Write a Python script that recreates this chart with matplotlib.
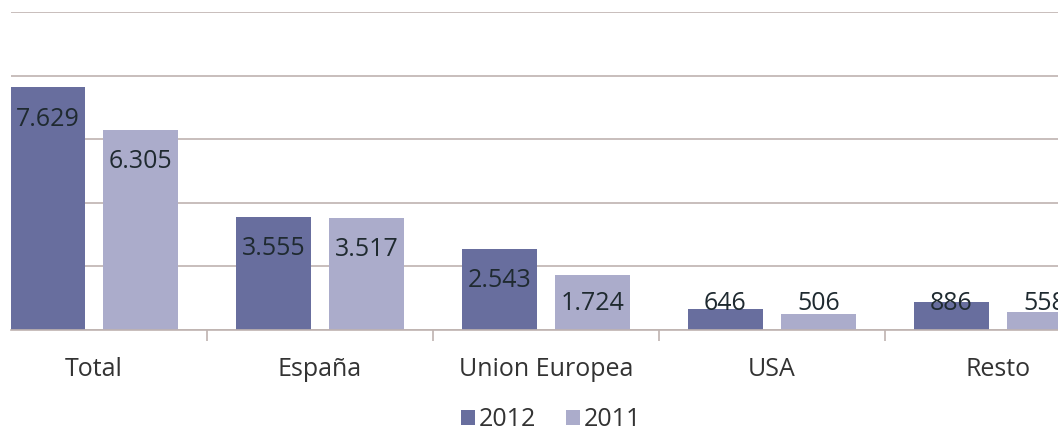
import matplotlib
matplotlib.use("Agg")
import matplotlib.pyplot as plt
import numpy as np

plt.rcParams['font.family'] = ['Open Sans', 'DejaVu Sans']

categories = ['Total', 'España', 'Union Europea', 'USA', 'Resto']
vals_2012 = [7629, 3555, 2543, 646, 886]
vals_2011 = [6305, 3517, 1724, 506, 558]
labels_2012 = ['7.629', '3.555', '2.543', '646', '886']
labels_2011 = ['6.305', '3.517', '1.724', '506', '558']
series = ['2012', '2011']

c12, c11 = '#686E9E', '#ABACCB'
grid_c = '#BFB3B0'
txt_c = '#333333'
fs = 18

W, H = 1058, 432
fig = plt.figure(figsize=(W / 100, H / 100), dpi=100)
# axes: left at 11px, category 0 centred at 94px, 226px per category
left_px, top_px, base_px = 11, 12, 330
xmin, xmax = (left_px - 94) / 226, 4.5
ax_w = (xmax - xmin) * 226
ax = fig.add_axes([left_px / W, (H - base_px) / H, ax_w / W, (base_px - top_px) / H])

x = np.arange(len(categories))
bw, off = 0.332, 0.206
b1 = ax.bar(x - off, vals_2012, bw, color=c12, label=series[0], zorder=2)
b2 = ax.bar(x + off, vals_2011, bw, color=c11, label=series[1], zorder=2)

ax.set_xlim(xmin, xmax)
ax.set_ylim(0, 10000)
ax.set_yticks(np.arange(0, 10001, 2000))
ax.yaxis.grid(True, color=grid_c, lw=1.2, zorder=0)
ax.tick_params(axis='y', length=0, labelleft=False)
for s in ['top', 'right', 'left']:
    ax.spines[s].set_visible(False)
ax.spines['bottom'].set_color(grid_c)
ax.spines['bottom'].set_linewidth(1.2)

ax.set_xticks(x + 0.5, minor=False)
ax.set_xticklabels([])
ax.tick_params(axis='x', length=8, color=grid_c, width=1.2)
for i, c in enumerate(categories):
    ax.text(i, -1230, c, ha='center', va='center', fontsize=fs, color=txt_c)

def lab_y(v):
    return max(v - 1000, 830)

for xs, vs, ls in [(x - off, vals_2012, labels_2012), (x + off, vals_2011, labels_2011)]:
    for xi, v, l in zip(xs, vs, ls):
        ax.text(xi, lab_y(v), l, ha='center', va='center', fontsize=fs,
                color='#1F2A30', zorder=3)

leg = fig.legend(handles=[b1, b2], labels=series, loc='center',
                 bbox_to_anchor=(551 / W, (H - 420) / H), ncol=2, frameon=False,
                 fontsize=fs, handlelength=0.55, handleheight=0.55,
                 handletextpad=0.15, columnspacing=1.2, labelcolor=txt_c,
                 borderpad=0.1)

fig.savefig('out.png', dpi=100)
